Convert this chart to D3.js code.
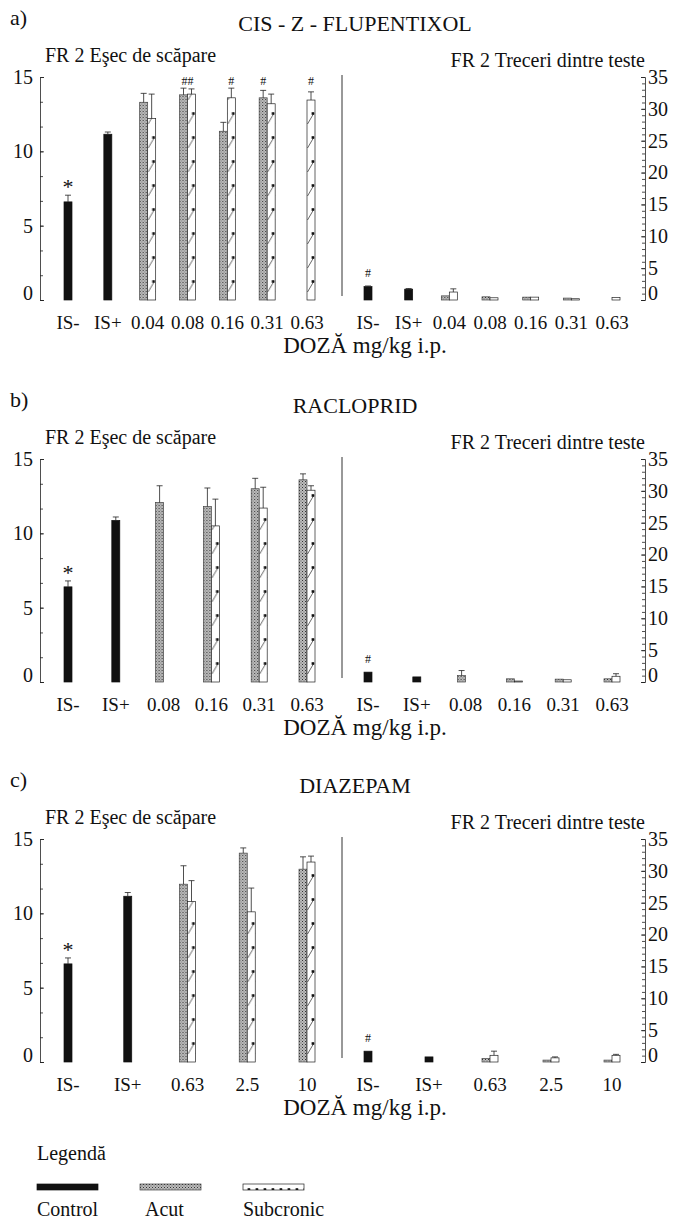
<!DOCTYPE html>
<html>
<head>
<meta charset="utf-8">
<script src="https://cdn.jsdelivr.net/npm/d3@7"></script>
<style>
body { margin: 0; background: #fff; }
text { font-family: "Liberation Serif", "Times New Roman", serif; fill: #111; }
</style>
</head>
<body>
<div id="fig"></div>
<script>
// ---- data: [mean, top of error bar] per dose, null = no bar
var dosesA = ["IS-", "IS+", "0.04", "0.08", "0.16", "0.31", "0.63"];
var escCtrlA = [[6.6, 7.05], [11.15, 11.3], null, null, null, null, null];
var escAcutA = [null, null, [13.3, 13.9], [13.8, 14.25], [11.35, 11.95], [13.6, 14.1], null];
var escSubA  = [null, null, [12.2, 13.85], [13.85, 14.2], [13.6, 14.25], [13.2, 13.85], [13.45, 14.0]];
var crsCtrlA = [[2.1, 2.2], [1.7, 1.8], null, null, null, null, null];
var crsAcutA = [null, null, [0.65, null], [0.5, null], [0.45, null], [0.3, null], null];
var crsSubA  = [null, null, [1.25, 1.75], [0.35, null], [0.45, null], [0.2, null], [0.4, null]];
var marksA = [["esc", "IS-", "control", "*"], ["esc", "0.08", "group", "##"], ["esc", "0.16", "sub", "#"],
              ["esc", "0.31", "acut", "#"], ["esc", "0.63", "sub", "#"], ["crs", "IS-", "control", "#"]];

var dosesB = ["IS-", "IS+", "0.08", "0.16", "0.31", "0.63"];
var escCtrlB = [[6.4, 6.8], [10.87, 11.1], null, null, null, null];
var escAcutB = [null, null, [12.07, 13.2], [11.8, 13.05], [13.0, 13.7], [13.6, 14.0]];
var escSubB  = [null, null, null, [10.5, 12.3], [11.7, 13.1], [12.9, 13.2]];
var crsCtrlB = [[1.55, null], [0.8, null], null, null, null, null];
var crsAcutB = [null, null, [1.0, 1.8], [0.5, null], [0.45, null], [0.5, null]];
var crsSubB  = [null, null, null, [0.15, null], [0.35, null], [0.9, 1.3]];
var marksB = [["esc", "IS-", "control", "*"], ["crs", "IS-", "control", "#"]];

var dosesC = ["IS-", "IS+", "0.63", "2.5", "10"];
var escCtrlC = [[6.6, 7.0], [11.15, 11.4], null, null, null];
var escAcutC = [null, null, [11.96, 13.2], [14.05, 14.4], [12.97, 13.8]];
var escSubC  = [null, null, [10.8, 12.2], [10.1, 11.7], [13.45, 13.85]];
var crsCtrlC = [[1.7, null], [0.8, null], null, null, null];
var crsAcutC = [null, null, [0.55, null], [0.3, null], [0.3, null]];
var crsSubC  = [null, null, [1.05, 1.7], [0.65, 0.8], [1.05, 1.2]];
var marksC = [["esc", "IS-", "control", "*"], ["crs", "IS-", "control", "#"]];

var escTicks = [0, 5, 10, 15];
var crsTicks = [0, 5, 10, 15, 20, 25, 30, 35];
var legendNames = ["Control", "Acut", "Subcronic"];

var panels = [
  {letter: "a)", title: "CIS - Z - FLUPENTIXOL", doses: dosesA, oy: 0,
   esc: {control: escCtrlA, acut: escAcutA, sub: escSubA},
   crs: {control: crsCtrlA, acut: crsAcutA, sub: crsSubA}, marks: marksA},
  {letter: "b)", title: "RACLOPRID", doses: dosesB, oy: 382,
   esc: {control: escCtrlB, acut: escAcutB, sub: escSubB},
   crs: {control: crsCtrlB, acut: crsAcutB, sub: crsSubB}, marks: marksB},
  {letter: "c)", title: "DIAZEPAM", doses: dosesC, oy: 762,
   esc: {control: escCtrlC, acut: escAcutC, sub: escSubC},
   crs: {control: crsCtrlC, acut: crsAcutC, sub: crsSubC}, marks: marksC}
];

var svg = d3.select("#fig").append("svg")
    .attr("width", 680)
    .attr("height", 1221);

// fills
var defs = svg.append("defs");
var pa = defs.append("pattern").attr("id", "acut")
    .attr("patternUnits", "userSpaceOnUse").attr("width", 3).attr("height", 3);
pa.append("rect").attr("width", 3).attr("height", 3).attr("fill", "#bdbdbd");
pa.append("rect").attr("width", 1).attr("height", 1).attr("fill", "#333");
pa.append("rect").attr("x", 1.5).attr("y", 1.5).attr("width", 1).attr("height", 1).attr("fill", "#5a5a5a");

var ps = defs.append("pattern").attr("id", "sub")
    .attr("patternUnits", "userSpaceOnUse").attr("width", 8).attr("height", 24);
ps.append("rect").attr("width", 8).attr("height", 24).attr("fill", "#fff");
ps.append("path").attr("d", "M0.5,16L7,5").attr("stroke", "#555").attr("stroke-width", 0.9);
ps.append("rect").attr("x", 4.6).attr("y", 4.2).attr("width", 2.6).attr("height", 2.6).attr("fill", "#111");

var fills = {control: "#111", acut: "url(#acut)", sub: "url(#sub)"};
var strokes = {control: "#111", acut: "#444", sub: "#222"};
var series = ["control", "acut", "sub"];
var bw = 8;

function barLeft(x, d, s) {
  if (s == "control") return x(d) - bw / 2;
  if (s == "acut") return x(d) - bw;
  return x(d);
}

function drawBars(g, x, y, data, doses) {
  series.forEach(function(s) {
    var rows = doses.map(function(d, i) { return {dose: d, v: data[s][i]}; })
                    .filter(function(r) { return r.v; });
    var bg = g.selectAll(null)
        .data(rows)
        .enter()
        .append("g")
        .attr("transform", function(r) { return "translate(" + barLeft(x, r.dose, s) + "," + y(0) + ")"; });
    bg.append("rect")
        .attr("x", 0)
        .attr("y", function(r) { return y(r.v[0]) - y(0); })
        .attr("width", bw)
        .attr("height", function(r) { return y(0) - y(r.v[0]); })
        .attr("fill", fills[s])
        .attr("stroke", strokes[s])
        .attr("stroke-width", 0.7);
    bg.filter(function(r) { return r.v[1] != null; })
        .append("path")
        .attr("d", function(r) {
          var b = y(r.v[0]) - y(0), t = y(r.v[1]) - y(0);
          return "M" + bw / 2 + "," + b + "V" + t + "M" + (bw / 2 - 3) + "," + t + "H" + (bw / 2 + 3);
        })
        .attr("fill", "none")
        .attr("stroke", "#222")
        .attr("stroke-width", 0.8);
  });
}

function styleAxis(a, size) {
  a.attr("font-size", size);
  a.selectAll("path, line").attr("stroke", "#222").attr("stroke-width", 0.8);
  a.selectAll("text").style("fill", "#111");
  // the zero label sits a little high in the original
  a.selectAll(".tick").filter(function(d) { return d === 0; })
      .select("text").attr("dy", "-0.05em");
}

panels.forEach(function(p) {
  var g = svg.append("g").attr("transform", "translate(0," + p.oy + ")");
  var y = d3.scaleLinear().domain([0, 15]).range([300, 77]);
  var y2 = d3.scaleLinear().domain([0, 35]).range([300, 77]);
  var xL = d3.scalePoint().domain(p.doses).range([68, 307]);
  var xR = d3.scalePoint().domain(p.doses).range([368, 612]);

  g.append("text").attr("x", 10).attr("y", 25).attr("font-size", 22).text(p.letter);
  g.append("text").attr("x", 355).attr("y", 31).attr("text-anchor", "middle")
      .attr("font-size", 22).text(p.title);
  g.append("text").attr("x", 45).attr("y", 62).attr("font-size", 20).text("FR 2 Eşec de scăpare");
  g.append("text").attr("x", 645).attr("y", 67).attr("text-anchor", "end")
      .attr("font-size", 20).text("FR 2 Treceri dintre teste");

  // left axis
  var la = g.append("g").attr("transform", "translate(40,0)")
      .call(d3.axisLeft(y).tickValues(escTicks).tickSize(-4).tickSizeOuter(-4).tickPadding(7));
  styleAxis(la, 20);
  var lm = g.append("g").attr("transform", "translate(40,0)")
      .call(d3.axisLeft(y).tickValues(d3.range(0, 15, 5 / 3)).tickSize(-3).tickFormat(""));
  lm.select(".domain").remove();
  styleAxis(lm, 10);

  // right axis
  var ra = g.append("g").attr("transform", "translate(645,0)")
      .call(d3.axisRight(y2).tickValues(crsTicks).tickSize(-4).tickSizeOuter(-4).tickPadding(3));
  styleAxis(ra, 20);
  var rm = g.append("g").attr("transform", "translate(645,0)")
      .call(d3.axisRight(y2).tickValues(d3.range(0, 35, 1)).tickSize(-3).tickFormat(""));
  rm.select(".domain").remove();
  styleAxis(rm, 10);

  // divider
  g.append("line").attr("x1", 342).attr("x2", 342)
      .attr("y1", y(15) - 2).attr("y2", y(0) - 4)
      .attr("stroke", "#333").attr("stroke-width", 1);

  drawBars(g, xL, y, p.esc, p.doses);
  drawBars(g, xR, y2, p.crs, p.doses);

  // dose labels
  [xL, xR].forEach(function(x) {
    g.selectAll(null).data(p.doses).enter().append("text")
        .attr("x", function(d) { return x(d); })
        .attr("y", 329)
        .attr("text-anchor", "middle")
        .attr("font-size", 19)
        .text(function(d) { return d; });
  });
  g.append("text").attr("x", 365).attr("y", 353).attr("text-anchor", "middle")
      .attr("font-size", 23).text("DOZĂ mg/kg i.p.");

  // significance marks
  p.marks.forEach(function(m) {
    var left = m[0] == "esc";
    var x = left ? xL : xR, sc = left ? y : y2, data = left ? p.esc : p.crs;
    var i = p.doses.indexOf(m[1]);
    var cx = m[2] == "group" ? x(m[1]) : barLeft(x, m[1], m[2]) + bw / 2;
    var v = m[2] == "group" ? null : data[m[2]][i];
    var top = v ? sc(v[1] != null ? v[1] : v[0]) : sc(15);
    var ty;
    if (m[3] == "*") ty = top - 1;
    else if (left) ty = y(15) + 8;
    else ty = top - 9;
    g.append("text").attr("x", cx).attr("y", ty).attr("text-anchor", "middle")
        .attr("font-size", m[3] == "*" ? 22 : 12).text(m[3]);
  });
});

// legend
var lg = svg.append("g");
var lx = d3.scalePoint().domain(legendNames).range([37, 243]);
lg.append("text").attr("x", 37).attr("y", 1160).attr("font-size", 20).text("Legendă");
var lfill = {Control: "control", Acut: "acut", Subcronic: "sub"};
lg.selectAll(null).data(legendNames).enter().append("g")
    .attr("transform", function(d) { return "translate(" + lx(d) + ",1184)"; })
    .append("rect")
    .attr("width", 61)
    .attr("height", 6)
    .attr("fill", function(d) { return fills[lfill[d]]; })
    .attr("stroke", function(d) { return strokes[lfill[d]]; })
    .attr("stroke-width", 0.7);
lg.selectAll(null).data(legendNames).enter().append("text")
    .attr("x", function(d, i) { return lx(d) + (i == 1 ? 5 : 0); })
    .attr("y", 1216)
    .attr("font-size", 20)
    .text(function(d) { return d; });
</script>
</body>
</html>
